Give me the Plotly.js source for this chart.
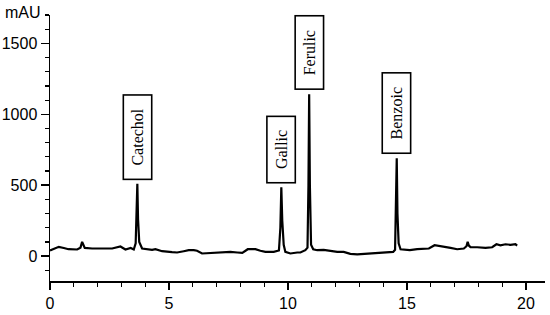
<!DOCTYPE html>
<html>
<head>
<meta charset="utf-8">
<script src="https://cdn.plot.ly/plotly-3.0.1.min.js"></script>
<style>
  html, body { margin: 0; padding: 0; background: #fff; }
  #chroma { width: 550px; height: 315px; }
</style>
</head>
<body>
<div id="chroma"></div>
<script>
  // retention time (min) and detector signal (mAU)
  var retTime = [0, 0.23, 0.37, 0.58, 0.78, 1.14, 1.28, 1.35, 1.46, 1.77, 2.05, 2.26, 2.61, 2.96, 3.17, 3.39, 3.52,
    3.6, 3.64, 3.67, 3.7, 3.75, 3.87, 4.29, 4.43, 4.71, 5.13, 5.34, 5.62, 5.83, 6.04, 6.18, 6.39, 6.74, 7.16, 7.58,
    7.87, 8.08, 8.31, 8.63, 8.84, 9.05, 9.4, 9.62, 9.68, 9.72, 9.76, 9.82, 9.89, 10.1, 10.39, 10.52, 10.73, 10.82,
    10.86, 10.89, 10.92, 10.97, 11.06, 11.23, 11.5, 11.79, 12.07, 12.34, 12.62, 12.91, 13.33, 13.75, 14.17, 14.42,
    14.5, 14.54, 14.57, 14.6, 14.65, 14.73, 15.01, 15.12, 15.43, 15.71, 15.92, 16.16, 16.34, 16.55, 16.83, 17.11,
    17.39, 17.5, 17.55, 17.6, 17.67, 17.95, 18.3, 18.58, 18.76, 18.93, 19.14, 19.35, 19.56, 19.63];

  var signal = [40, 58, 66, 58, 49, 47, 60, 101, 58, 54, 54, 58, 54, 68, 47, 58, 47,
    90, 300, 510, 260, 100, 54, 44, 49, 35, 28, 26, 35, 42, 42, 38, 19, 23, 26, 30,
    26, 23, 49, 49, 38, 30, 30, 40, 200, 486, 250, 80, 30, 19, 26, 26, 42, 60,
    500, 1141, 500, 80, 49, 42, 45, 38, 30, 30, 16, 12, 16, 23, 26, 30,
    45, 300, 690, 300, 90, 49, 45, 42, 49, 54, 54, 77, 73, 63, 58, 49,
    54, 70, 101, 75, 64, 63, 58, 63, 84, 77, 84, 80, 84, 75];

  // identified compounds
  var peakNames = ["Catechol", "Gallic", "Ferulic", "Benzoic"];
  var peakTimes = [3.67, 9.72, 10.89, 14.57];
  var peakHeights = [510, 486, 1141, 690];

  var xTicks = [0, 5, 10, 15, 20];
  var yTicks = [0, 500, 1000, 1500];

  var pad = "\u00a0\u00a0";
  var labelNotes = peakNames.map(function (name, i) {
    return {
      x: peakTimes[i],
      y: peakHeights[i],
      xref: "x", yref: "y",
      text: pad + name + pad,
      showarrow: false,
      textangle: -90,
      xanchor: "center",
      yanchor: "bottom",
      yshift: 4,
      bgcolor: "#fff",
      bordercolor: "#000",
      borderwidth: 1.6,
      borderpad: 5,
      font: { family: "Liberation Serif, serif", size: 16, color: "#000" }
    };
  });

  labelNotes.push({
    xref: "paper", yref: "paper",
    x: -0.095, y: 1.011,
    xanchor: "left", yanchor: "middle",
    text: "mAU",
    showarrow: false,
    font: { family: "Liberation Sans, Arial, sans-serif", size: 16, color: "#000" }
  });

  var trace = {
    x: retTime,
    y: signal,
    mode: "lines",
    line: { color: "#000", width: 2.2 },
    hoverinfo: "skip"
  };

  var axisFont = { family: "Liberation Sans, Arial, sans-serif", size: 16, color: "#000" };

  var layout = {
    width: 550,
    height: 315,
    margin: { t: 15, b: 34, l: 50, r: 5 },
    paper_bgcolor: "#fff",
    plot_bgcolor: "#fff",
    showlegend: false,
    xaxis: {
      range: [0, 20.8],
      tickvals: xTicks,
      ticktext: xTicks.map(String),
      ticks: "outside",
      ticklen: 7,
      tickwidth: 1.5,
      tickcolor: "#000",
      ticklabelstandoff: 0,
      minor: { dtick: 1, ticks: "outside", ticklen: 4, tickwidth: 1.2, tickcolor: "#000", showgrid: false },
      showline: true,
      linecolor: "#000",
      linewidth: 1.5,
      showgrid: false,
      zeroline: false,
      tickfont: axisFont
    },
    yaxis: {
      range: [-175, 1700],
      tickvals: yTicks,
      ticktext: yTicks.map(String),
      ticks: "outside",
      ticklen: 8,
      tickwidth: 1.5,
      tickcolor: "#000",
      minor: { dtick: 100, tick0: 0, ticks: "outside", ticklen: 4, tickwidth: 1.2, tickcolor: "#000", showgrid: false },
      showline: true,
      linecolor: "#000",
      linewidth: 1.5,
      showgrid: false,
      zeroline: false,
      tickfont: axisFont
    },
    annotations: labelNotes
  };

  Plotly.newPlot("chroma", [trace], layout, { staticPlot: true, displayModeBar: false });
</script>
</body>
</html>
